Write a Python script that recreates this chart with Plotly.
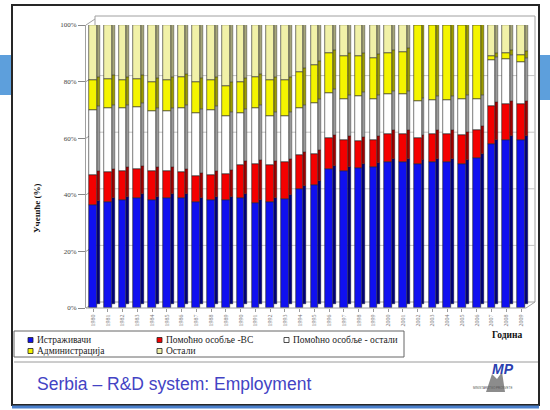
import numpy as np
import plotly.graph_objects as go

# Years on the horizontal axis
years = list(range(1980, 2010))

# Shares of R&D employment by staff category (% of total)
researchers = [36.5, 37.5, 38.0, 39.0, 38.0, 39.0, 39.0, 37.5, 38.0, 38.0,
               39.0, 37.0, 37.5, 38.5, 42.0, 43.5, 49.0, 48.5, 49.5, 50.0,
               51.5, 51.5, 51.0, 51.5, 51.5, 51.0, 53.0, 58.0, 59.5, 59.5]
support_hs = [10.5, 10.5, 10.5, 10.0, 10.5, 9.5, 9.0, 9.0, 9.0, 9.5,
              11.5, 14.0, 13.0, 13.0, 12.0, 11.0, 11.0, 11.0, 9.5, 9.5,
              10.0, 10.0, 9.0, 10.0, 10.0, 10.0, 10.0, 13.5, 12.5, 12.5]
support_other = [23.0, 22.5, 22.0, 22.0, 21.0, 21.0, 22.5, 22.5, 23.0, 20.5,
                 18.5, 19.5, 17.5, 16.5, 16.5, 18.0, 16.0, 14.5, 16.0, 14.5,
                 14.0, 14.0, 13.0, 12.0, 12.0, 13.0, 11.0, 16.0, 16.0, 15.0]
administration = [10.5, 10.5, 10.0, 10.0, 10.5, 11.0, 11.0, 11.0, 10.5, 10.5,
                  11.0, 11.0, 12.5, 12.5, 13.0, 13.5, 14.0, 15.0, 14.0, 14.5,
                  14.5, 15.0, 27.0, 26.5, 26.5, 26.0, 26.0, 1.5, 2.0, 2.5]
others = [19.5, 19.0, 19.5, 19.0, 20.0, 19.5, 18.5, 20.0, 19.5, 21.5,
          20.0, 18.5, 19.5, 19.5, 16.5, 14.0, 10.0, 11.0, 11.0, 11.5,
          10.0, 9.5, 0.0, 0.0, 0.0, 0.0, 0.0, 11.0, 10.0, 10.5]

series_names = ["Истраживачи", "Помоћно особље -ВС", "Помоћно особље - остали",
                "Администрација", "Остали"]
series_values = [researchers, support_hs, support_other, administration, others]
face_colors = ["#1010f0", "#f40000", "#ffffff", "#f4f400", "#f1f1a8"]
side_colors = ["#00007e", "#a00000", "#9a9a9a", "#9c9c00", "#a5a57a"]

y_ticks = [0, 20, 40, 60, 80, 100]
y_ticktext = [f"{v}%" for v in y_ticks]

# --- page geometry helpers (pixel -> paper fraction) ---
W, H = 550, 410
PL, PR, PT, PB = 86, 535, 25, 308


def px(x):
    return (x - PL) / (PR - PL)


def py(y):
    return (PB - y) / (PB - PT)


DEPTH_X, DEPTH_Y = 9, 6          # 3-D depth of the chart box in pixels
UNIT = (PB - PT) / 100.0         # pixels per percent
lift = DEPTH_Y * 0.6 / UNIT      # side faces lifted to suggest depth

fig = go.Figure()

vals = np.array(series_values, dtype=float)
bases = np.vstack([np.zeros(len(years)), np.cumsum(vals, axis=0)[:-1]])

# side faces first so the fronts sit on top
for i in range(len(series_names)):
    fig.add_trace(go.Bar(
        x=years, y=vals[i], base=bases[i] + lift,
        width=0.2, offset=0.26,
        marker=dict(color=side_colors[i], line=dict(color="#222", width=0.4)),
        showlegend=False, hoverinfo="skip"))

for i, name in enumerate(series_names):
    fig.add_trace(go.Bar(
        x=years, y=vals[i], base=bases[i], name=name,
        width=0.52, offset=-0.26,
        marker=dict(color=face_colors[i], line=dict(color="#222", width=0.6)),
        showlegend=False))

shapes = []
# slide decoration
shapes.append(dict(type="rect", xref="paper", yref="paper",
                   x0=px(0), x1=px(11), y0=py(95), y1=py(55),
                   fillcolor="#5d9fdc", line=dict(width=0), layer="below"))
shapes.append(dict(type="rect", xref="paper", yref="paper",
                   x0=px(540), x1=px(550), y0=py(100), y1=py(55),
                   fillcolor="#5d9fdc", line=dict(width=0), layer="below"))
shapes.append(dict(type="rect", xref="paper", yref="paper",
                   x0=px(12), x1=px(539), y0=py(405), y1=py(5),
                   line=dict(color="#262626", width=2), layer="below"))
shapes.append(dict(type="line", xref="paper", yref="paper",
                   x0=px(12), x1=px(539), y0=py(407), y1=py(407),
                   line=dict(color="#4a80cc", width=3)))
shapes.append(dict(type="line", xref="paper", yref="paper",
                   x0=px(14), x1=px(538), y0=py(362), y1=py(362),
                   line=dict(color="#9a9a9a", width=1)))

# 3-D chart box: back wall, left wall edges, floor
bw_l, bw_r = PL + DEPTH_X, PR
shapes.append(dict(type="rect", xref="paper", yref="paper",
                   x0=px(bw_l), x1=px(bw_r), y0=py(PB - DEPTH_Y), y1=py(PT - DEPTH_Y - 3),
                   line=dict(color="#a0a0a0", width=1), layer="below"))
for gv in y_ticks[1:-1]:
    yy = PB - gv * UNIT
    shapes.append(dict(type="line", xref="paper", yref="paper",
                       x0=px(bw_l), x1=px(bw_r), y0=py(yy - DEPTH_Y), y1=py(yy - DEPTH_Y),
                       line=dict(color="#c4c4c4", width=1), layer="below"))
for gv in y_ticks:
    yy = PB - gv * UNIT
    shapes.append(dict(type="line", xref="paper", yref="paper",
                       x0=px(PL), x1=px(bw_l), y0=py(yy), y1=py(yy - DEPTH_Y),
                       line=dict(color="#a0a0a0", width=1), layer="below"))
shapes.append(dict(type="line", xref="paper", yref="paper",
                   x0=px(PL), x1=px(PR - DEPTH_X), y0=py(PB), y1=py(PB),
                   line=dict(color="#a0a0a0", width=1)))
shapes.append(dict(type="line", xref="paper", yref="paper",
                   x0=px(PR - DEPTH_X), x1=px(PR), y0=py(PB), y1=py(PB - DEPTH_Y),
                   line=dict(color="#a0a0a0", width=1)))

# legend box and entries
shapes.append(dict(type="rect", xref="paper", yref="paper",
                   x0=px(14), x1=px(404), y0=py(357), y1=py(331),
                   line=dict(color="#666", width=1), fillcolor="white"))
legend_slots = [(28, 340), (157, 340), (284, 340), (28, 351), (157, 351)]
annotations = []
for (lx, ly), name, col in zip(legend_slots, series_names, face_colors):
    shapes.append(dict(type="rect", xref="paper", yref="paper",
                       x0=px(lx), x1=px(lx + 5), y0=py(ly + 2.5), y1=py(ly - 2.5),
                       fillcolor=col, line=dict(color="#222", width=0.8)))
    annotations.append(dict(text=name, xref="paper", yref="paper",
                            x=px(lx + 7), y=py(ly), xanchor="left", yanchor="middle",
                            showarrow=False,
                            font=dict(family="Liberation Serif", size=9.5, color="#222")))

# axis titles, slide title and logo
annotations += [
    dict(text="<b>Учешће (%)</b>", xref="paper", yref="paper",
         x=px(30), y=py(208), textangle=-90, showarrow=False,
         font=dict(family="Liberation Serif", size=9, color="#111")),
    dict(text="<b>Година</b>", xref="paper", yref="paper",
         x=px(524), y=py(342), showarrow=False,
         font=dict(family="Liberation Serif", size=9.5, color="#111")),
    dict(text="Serbia – R&D system: Employment", xref="paper", yref="paper",
         x=px(35), y=py(384), xanchor="left", yanchor="middle", showarrow=False,
         font=dict(family="Liberation Sans", size=17.5, color="#4343c4")),
    dict(text="<b><i>MP</i></b>", xref="paper", yref="paper",
         x=px(516), y=py(379), showarrow=False,
         font=dict(family="Liberation Sans", size=14, color="#2b3fb0")),
    dict(text="MINISTARSTVO PROSVETE", xref="paper", yref="paper",
         x=px(514), y=py(392), showarrow=False,
         font=dict(family="Liberation Sans", size=3, color="#555")),
]
shapes.append(dict(type="path", xref="paper", yref="paper",
                   path=(f"M {px(486)} {py(392)} L {px(492)} {py(374)} L {px(497)} {py(379)} "
                         f"L {px(502)} {py(372)} L {px(505)} {py(392)} Z"),
                   fillcolor="#8c8c8c", line=dict(width=0)))

fig.update_layout(
    width=W, height=H,
    margin=dict(l=PL, r=W - PR, t=PT, b=H - PB),
    paper_bgcolor="white", plot_bgcolor="rgba(0,0,0,0)",
    barmode="overlay", bargap=0,
    shapes=shapes, annotations=annotations,
    showlegend=False,
    xaxis=dict(range=[years[0] - 7 / 14.76, years[-1] + 14 / 14.76],
               tickvals=years, ticktext=[str(y) for y in years],
               tickangle=-90, tickfont=dict(family="Liberation Serif", size=6, color="#777"),
               ticks="outside", ticklen=3, tickcolor="#999",
               showgrid=False, zeroline=False, showline=False),
    yaxis=dict(range=[0, 100], tickvals=y_ticks, ticktext=y_ticktext,
               tickfont=dict(family="Liberation Serif", size=7, color="#444"),
               ticks="outside", ticklen=7, tickcolor="#888",
               showgrid=False, zeroline=False,
               showline=True, linecolor="#a0a0a0", linewidth=1),
)

fig.write_html("out.html")
